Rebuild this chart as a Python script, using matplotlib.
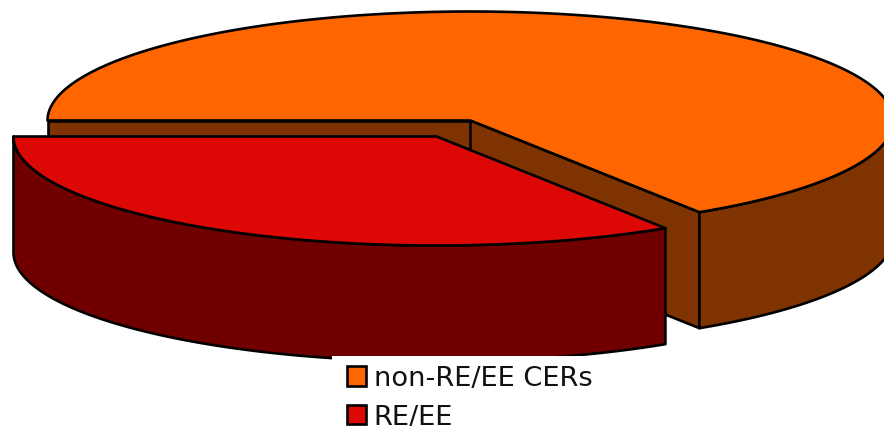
import numpy as np
import matplotlib
matplotlib.use("Agg")
import matplotlib.pyplot as plt
from matplotlib.patches import Polygon, Rectangle, Patch

# Data
categories = ["non-RE/EE CERs", "RE/EE"]
shares = [65.9, 34.1]

# Styles
top_colors = ["#FF6600", "#DD0806"]
wall_colors = ["#7F3300", "#700000"]
EDGE = "#000000"
LW = 1.9

# Layout of the pseudo-3D pie, in pixels
RX, RY, DEPTH = 423, 109, 116
START_DEG = 180.0
centers = [(470.5, 121.5), (436.5, 137.5)]

W, H = 884, 427
fig = plt.figure(figsize=(W / 100, H / 100), dpi=100)
ax = fig.add_axes([0, 0, 1, 1])
ax.set_xlim(0, W)
ax.set_ylim(H, 0)
ax.axis("off")


def arc(cx, cy, a0, a1):
    # angles in degrees, going clockwise on screen as they increase
    t = np.radians(np.linspace(a0, a1, 240))
    return np.column_stack([cx + RX * np.cos(t), cy + RY * np.sin(t)])


def poly(points, color, z):
    ax.add_patch(Polygon(points, closed=True, facecolor=color, edgecolor=EDGE,
                         linewidth=LW, joinstyle="round", zorder=z))


def down(points):
    return points + np.array([0, DEPTH])


# slice angle ranges (screen-clockwise from the left edge)
spans = []
a = START_DEG
for s in shares:
    b = a + 360.0 * s / sum(shares)
    spans.append((a, b))
    a = b

# orange slice runs over the top from the left edge to its end angle
a0, a1 = spans[0]
cx, cy = centers[0]
c = np.array([[cx, cy]], dtype=float)
pa = arc(cx, cy, a0, a1)
left, right = pa[:1], pa[-1:]
# inner walls
poly(np.vstack([c, left, down(left), down(c)]), wall_colors[0], 1)
poly(np.vstack([c, right, down(right), down(c)]), wall_colors[0], 2)
# outer visible wall
outer = arc(cx, cy, a1, 360 + 5)
poly(np.vstack([outer, down(outer)[::-1]]), wall_colors[0], 3)
# top
poly(np.vstack([c, pa]), top_colors[0], 4)

# red slice runs along the front
a0, a1 = spans[1]
cx, cy = centers[1]
c = np.array([[cx, cy]], dtype=float)
pa = arc(cx, cy, a0, a1)
poly(np.vstack([pa, down(pa)[::-1]]), wall_colors[1], 5)
poly(np.vstack([c, pa]), top_colors[1], 6)

# legend on its white panel, which covers the foot of the pie
ax.add_patch(Rectangle((332, 357), 552, 70, facecolor="white", edgecolor="none", zorder=7))
handles = [Patch(facecolor=col, edgecolor=EDGE, linewidth=1.9) for col in top_colors]
leg = ax.legend(handles, categories, loc="upper left",
                bbox_to_anchor=(346.5 / W, 1 - 366.5 / H), bbox_transform=ax.transAxes,
                frameon=False, prop={"family": "DejaVu Sans", "size": 19.6},
                handlelength=0.7, handleheight=0.7, handletextpad=0.3,
                labelspacing=0.45, borderpad=0, borderaxespad=0, labelcolor="#111111")
leg.set_zorder(8)

fig.savefig("out.png", dpi=100)
